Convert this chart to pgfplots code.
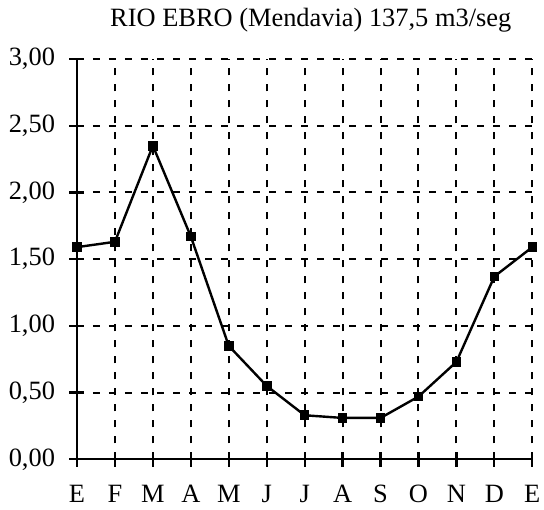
\documentclass[border=0pt]{standalone}
\usepackage{fontspec}
\setmainfont{Liberation Serif}
\usepackage{pgfplots}
\pgfplotsset{compat=1.18}
\begin{document}
\begin{tikzpicture}
\begin{axis}[
  scale only axis,
  width=455.3bp, height=400.3bp,
  xmin=0, xmax=12, ymin=0, ymax=3,
  axis x line=bottom, axis y line=left,
  axis line style={-, line width=2.2bp},
  xtick={0,1,...,12},
  xticklabels={E,F,M,A,M,J,J,A,S,O,N,D,E},
  ytick={0,0.5,1,1.5,2,2.5,3},
  tick align=center,
  major tick length=15bp,
  tick style={black, line width=2.2bp},
  grid=major,
  major grid style={black, dash pattern=on 7bp off 9bp, line width=2bp},
  /pgf/number format/.cd, fixed, fixed zerofill, precision=2, use comma, assume math mode=true,
  /pgfplots/.cd,
  tick label style={font=\fontsize{26.5}{30}\selectfont},
  xticklabel style={yshift=-18bp, inner sep=0pt, text depth=0pt},
  yticklabel style={xshift=-11bp},
  title={RIO EBRO (Mendavia) 137,5 m3/seg},
  title style={at={(0.5134,1)}, anchor=base, yshift=27bp, font=\fontsize{26.5}{30}\selectfont},
]
\addplot[black, line width=2.4bp, mark=square*, mark size=3.6bp, mark options={solid}]
coordinates {
(0,1.59) (1,1.63) (2,2.35) (3,1.67) (4,0.85) (5,0.55) (6,0.33)
(7,0.31) (8,0.31) (9,0.47) (10,0.73) (11,1.37) (12,1.59)
};
\end{axis}
\pgfresetboundingbox
\path (-77bp,-50.7bp) rectangle (467bp,459.3bp);
\end{tikzpicture}
\end{document}
